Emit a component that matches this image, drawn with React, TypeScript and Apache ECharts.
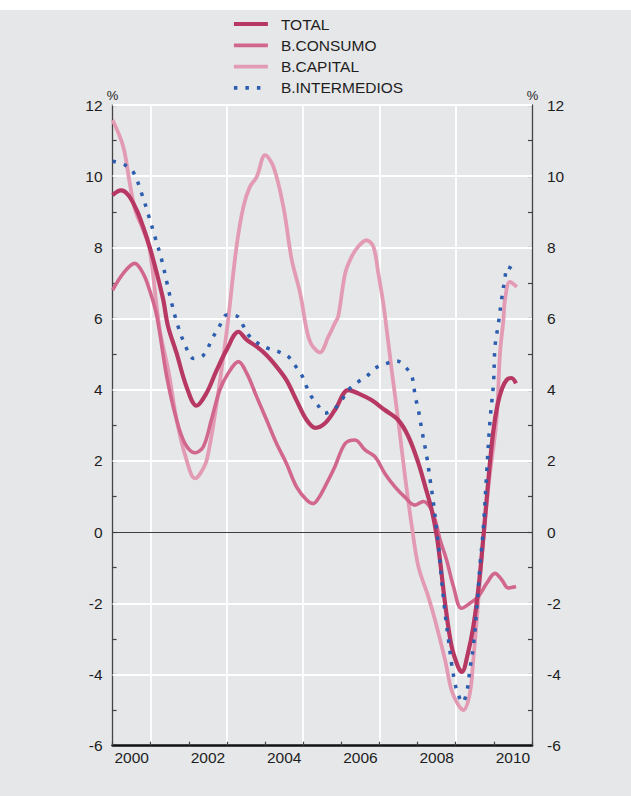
import React, { useEffect, useRef } from "react";
import * as echarts from "echarts";

const yearLabels = ["2000", "2001", "2002", "2003", "2004", "2005", "2006", "2007", "2008", "2009", "2010"];
const seriesNames = ["TOTAL", "B.CONSUMO", "B.CAPITAL", "B.INTERMEDIOS"];
const yMin = -6;
const yMax = 12;
const xMin = 2000;
const xMax = 2011;

const total: [number, number][] = [
  [2000.0, 9.47], [2000.22, 9.6], [2000.41, 9.47], [2000.63, 9.05], [2000.8, 8.58], [2000.97, 8.02],
  [2001.16, 7.27], [2001.33, 6.52], [2001.45, 5.8], [2001.68, 5.02], [2001.94, 4.08], [2002.2, 3.55],
  [2002.46, 3.9], [2002.73, 4.55], [2002.99, 5.12], [2003.3, 5.63], [2003.52, 5.4], [2003.78, 5.21],
  [2004.04, 4.97], [2004.3, 4.65], [2004.56, 4.27], [2004.82, 3.71], [2005.09, 3.15], [2005.32, 2.93],
  [2005.57, 3.06], [2005.83, 3.43], [2006.18, 3.99], [2006.44, 3.9], [2006.79, 3.71], [2007.14, 3.43],
  [2007.49, 3.15], [2007.76, 2.68], [2008.02, 1.94], [2008.2, 1.28], [2008.37, 0.62], [2008.5, -0.1],
  [2008.6, -0.9], [2008.72, -2.0], [2008.89, -3.2], [2009.06, -3.78], [2009.16, -3.93], [2009.32, -3.4],
  [2009.46, -2.66], [2009.6, -1.53], [2009.72, -0.2], [2009.85, 1.4], [2009.98, 2.8], [2010.1, 3.6],
  [2010.22, 4.05], [2010.34, 4.28], [2010.46, 4.33], [2010.58, 4.18],
];

const consumo: [number, number][] = [
  [2000.0, 6.8], [2000.28, 7.27], [2000.58, 7.55], [2000.8, 7.27], [2000.97, 6.8], [2001.16, 6.07],
  [2001.42, 4.37], [2001.68, 3.15], [2001.9, 2.49], [2002.16, 2.23], [2002.38, 2.4], [2002.59, 3.15],
  [2002.81, 3.99], [2003.03, 4.46], [2003.3, 4.79], [2003.52, 4.46], [2003.78, 3.8], [2004.04, 3.15],
  [2004.3, 2.49], [2004.56, 1.93], [2004.82, 1.28], [2005.09, 0.9], [2005.26, 0.8], [2005.4, 0.95],
  [2005.57, 1.28], [2005.83, 1.84], [2006.1, 2.49], [2006.36, 2.59], [2006.62, 2.31], [2006.88, 2.12],
  [2007.14, 1.65], [2007.4, 1.28], [2007.66, 0.99], [2007.93, 0.76], [2008.15, 0.86], [2008.32, 0.71],
  [2008.46, 0.34], [2008.59, -0.22], [2008.76, -0.78], [2008.94, -1.53], [2009.15, -2.14], [2009.37, -2.0],
  [2009.59, -1.81], [2009.81, -1.44], [2010.03, -1.16], [2010.2, -1.33], [2010.38, -1.57], [2010.58, -1.53],
];

const capital: [number, number][] = [
  [2000.0, 11.58], [2000.28, 10.83], [2000.45, 9.8], [2000.59, 9.05], [2000.8, 8.49], [2000.97, 7.94],
  [2001.15, 6.4], [2001.25, 5.6], [2001.46, 4.55], [2001.68, 3.15], [2001.92, 2.1], [2002.16, 1.51],
  [2002.3, 1.65], [2002.47, 2.03], [2002.73, 3.62], [2002.94, 5.21], [2003.03, 5.96], [2003.25, 8.02],
  [2003.43, 9.14], [2003.6, 9.7], [2003.78, 9.98], [2004.0, 10.59], [2004.22, 10.26], [2004.48, 9.14],
  [2004.7, 7.64], [2004.92, 6.71], [2005.09, 5.68], [2005.2, 5.3], [2005.35, 5.1], [2005.44, 5.05],
  [2005.66, 5.49], [2005.83, 5.87], [2005.92, 6.07], [2006.1, 7.27], [2006.27, 7.74], [2006.44, 8.02],
  [2006.66, 8.2], [2006.84, 8.02], [2006.97, 7.27], [2007.1, 6.43], [2007.19, 5.68], [2007.32, 4.55],
  [2007.49, 3.15], [2007.67, 1.56], [2007.85, 0.15], [2008.02, -0.97], [2008.28, -1.81], [2008.46, -2.48],
  [2008.72, -3.59], [2008.89, -4.44], [2009.07, -4.86], [2009.2, -5.0], [2009.37, -4.53], [2009.46, -3.59],
  [2009.55, -2.48], [2009.64, -1.26], [2009.72, -0.22], [2009.88, 1.5], [2010.07, 3.15], [2010.16, 5.02],
  [2010.25, 5.96], [2010.29, 6.52], [2010.42, 7.03], [2010.6, 6.89],
];

const intermedios: [number, number][] = [
  [2000.0, 10.42], [2000.33, 10.31], [2000.54, 10.12], [2000.76, 9.52], [2000.94, 8.91], [2001.11, 8.3],
  [2001.29, 7.64], [2001.42, 7.03], [2001.55, 6.43], [2001.72, 5.77], [2001.94, 5.16], [2002.12, 4.88],
  [2002.38, 4.97], [2002.64, 5.49], [2002.82, 5.82], [2002.99, 6.1], [2003.26, 6.07], [2003.43, 5.79],
  [2003.6, 5.49], [2003.82, 5.3], [2004.08, 5.16], [2004.35, 5.07], [2004.61, 4.93], [2004.78, 4.69],
  [2004.96, 4.41], [2005.09, 4.08], [2005.22, 3.8], [2005.38, 3.57], [2005.57, 3.34], [2005.83, 3.48],
  [2006.01, 3.71], [2006.18, 3.99], [2006.44, 4.22], [2006.66, 4.37], [2006.88, 4.6], [2007.19, 4.74],
  [2007.45, 4.81], [2007.67, 4.65], [2007.85, 4.37], [2007.94, 3.8], [2008.02, 3.43], [2008.11, 2.87],
  [2008.24, 2.12], [2008.33, 1.46], [2008.41, 0.86], [2008.5, 0.06], [2008.55, -0.41], [2008.63, -1.35],
  [2008.72, -2.28], [2008.81, -3.03], [2008.89, -3.69], [2008.98, -4.25], [2009.07, -4.58], [2009.18, -4.79],
  [2009.29, -4.48], [2009.37, -3.87], [2009.46, -3.22], [2009.55, -2.19], [2009.64, -0.88], [2009.72, 0.06],
  [2009.81, 1.65], [2009.9, 3.15], [2009.99, 4.18], [2010.03, 5.21], [2010.12, 5.87], [2010.2, 6.52],
  [2010.29, 7.13], [2010.36, 7.46], [2010.54, 7.34],
];

const COLORS = {
  total: "#b73862",
  consumo: "#d2678d",
  capital: "#e29bb3",
  intermedios: "#2c5dae",
};

const TOP = 10;

export default function App() {
  const ref = useRef<HTMLDivElement>(null);

  useEffect(() => {
    if (!ref.current) return;
    const chart = echarts.init(ref.current, undefined, { renderer: "svg" });

    const font = "'Liberation Sans', Arial, Helvetica, sans-serif";
    const evenOnly = (v: number) => (Math.round(v) % 2 === 0 ? String(Math.round(v)) : "");

    // gridlines: white at odd-year boundaries and even y values, dark at zero
    const gridMarks: any[] = [];
    for (let yr = xMin + 1; yr < xMax; yr += 2) gridMarks.push({ xAxis: yr });
    for (let v = yMin + 2; v <= yMax; v += 2) {
      if (v !== 0) gridMarks.push({ yAxis: v });
    }
    gridMarks.push({ yAxis: 0, lineStyle: { color: "#3c3c3c", width: 1.1 } });

    const lineSeries = (name: string, data: [number, number][], color: string, width: number, type: any, z: number, extra: any = {}) => ({
      name,
      type: "line",
      xAxisIndex: 1,
      yAxisIndex: 0,
      data,
      smooth: 0.35,
      symbol: "none",
      z,
      lineStyle: { color, width, type, cap: "butt" },
      itemStyle: { color },
      ...extra,
    });

    chart.setOption({
      animation: false,
      backgroundColor: "#e6e7e9",
      graphic: [
        { type: "text", x: 112.5, y: 95 - TOP, style: { text: "%", fill: "#222", font: `13px ${font}`, textAlign: "center", textVerticalAlign: "middle" } },
        { type: "text", x: 532.5, y: 95 - TOP, style: { text: "%", fill: "#222", font: `13px ${font}`, textAlign: "center", textVerticalAlign: "middle" } },
      ],
      legend: {
        data: seriesNames,
        orient: "vertical",
        left: 232,
        top: 16 - TOP,
        padding: 0,
        itemWidth: 34,
        itemHeight: 14,
        itemGap: 5.3,
        lineStyle: { width: 3.8 },
        itemStyle: { opacity: 0 },
        textStyle: { fontSize: 15.5, color: "#1e1e1e", fontFamily: font, padding: [0, 0, 0, 8] },
      },
      grid: { left: 112.6, right: 99, top: 105 - TOP, bottom: 50.3 },
      xAxis: [
        {
          type: "category",
          data: yearLabels,
          boundaryGap: true,
          position: "bottom",
          axisLine: { show: true, onZero: false, lineStyle: { color: "#111", width: 2.6 } },
          axisTick: { show: true, inside: true, length: 4, interval: 0, lineStyle: { color: "#444", width: 1.2 } },
          axisLabel: { interval: 1, fontSize: 15.5, color: "#1e1e1e", margin: 4, fontFamily: font },
          splitLine: { show: false },
          z: 4,
        },
        {
          type: "value",
          min: xMin,
          max: xMax,
          interval: 1,
          show: false,
          splitLine: { show: false },
        },
      ],
      yAxis: [
        {
          type: "value",
          min: yMin,
          max: yMax,
          interval: 1,
          position: "left",
          axisLine: { show: true, onZero: false, lineStyle: { color: "#444", width: 1.3 } },
          axisTick: { show: true, inside: true, length: 4, lineStyle: { color: "#444", width: 1.2 } },
          axisLabel: { formatter: evenOnly, fontSize: 15.5, color: "#1e1e1e", margin: 10, fontFamily: font },
          splitLine: { show: false },
        },
        {
          type: "value",
          min: yMin,
          max: yMax,
          interval: 1,
          position: "right",
          axisLine: { show: true, onZero: false, lineStyle: { color: "#444", width: 1.3 } },
          axisTick: { show: true, inside: true, length: 4, lineStyle: { color: "#444", width: 1.2 } },
          axisLabel: { formatter: evenOnly, fontSize: 15.5, color: "#1e1e1e", margin: 15, fontFamily: font },
          splitLine: { show: false },
        },
      ],
      series: [
        lineSeries("B.CAPITAL", capital, COLORS.capital, 3.8, "solid", 2, {
          markLine: {
            silent: true,
            z: 1,
            animation: false,
            symbol: ["none", "none"],
            label: { show: false },
            emphasis: { disabled: true },
            lineStyle: { color: "#ffffff", width: 1.8, type: "solid", opacity: 1 },
            data: gridMarks,
          },
        }),
        lineSeries("B.CONSUMO", consumo, COLORS.consumo, 3.6, "solid", 3),
        lineSeries("TOTAL", total, COLORS.total, 4.2, "solid", 4),
        lineSeries("B.INTERMEDIOS", intermedios, COLORS.intermedios, 3.5, [3.5, 8], 5),
      ],
    });

    return () => chart.dispose();
  }, []);

  return (
    <div style={{ position: "fixed", left: 0, top: 0, width: 631, height: 796, background: "#ffffff" }}>
      <div ref={ref} style={{ position: "absolute", left: 0, top: TOP, width: 631, height: 796 - TOP }} />
    </div>
  );
}
